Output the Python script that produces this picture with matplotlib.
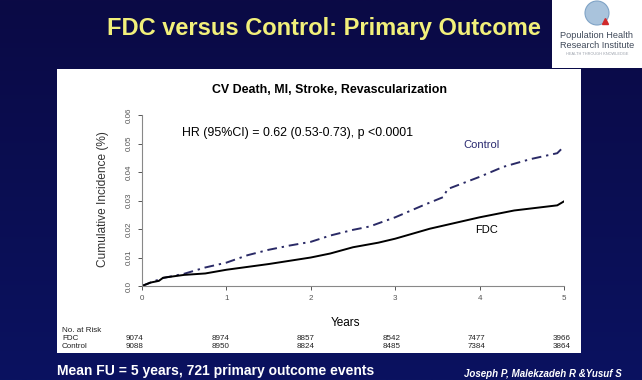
import numpy as np
import matplotlib
matplotlib.use("Agg")
import matplotlib.pyplot as plt
from matplotlib.patches import Rectangle, Circle

plt.rcParams['font.family'] = ['Liberation Sans', 'DejaVu Sans']

# cumulative incidence curves
control_t = [0, 0.1, 0.25, 0.5, 0.75, 1.0, 1.25, 1.5, 1.75, 2.0, 2.23, 2.5,
             2.7, 2.82, 3.0, 3.33, 3.57, 3.62, 4.0, 4.28, 4.6, 4.92, 5.0]
control_y = [0, 0.0012, 0.0028, 0.0043, 0.0065, 0.0082, 0.0108, 0.0127, 0.0142,
             0.0155, 0.0177, 0.0197, 0.0209, 0.0222, 0.0241, 0.0283, 0.0312,
             0.0340, 0.0383, 0.0418, 0.0445, 0.0466, 0.0490]
fdc_t = [0, 0.1, 0.2, 0.25, 0.5, 0.75, 1.0, 1.5, 2.0, 2.23, 2.5, 2.8, 3.0,
         3.41, 4.0, 4.41, 4.92, 5.0]
fdc_y = [0, 0.0012, 0.0018, 0.0029, 0.0039, 0.0044, 0.0057, 0.0077, 0.0100,
         0.0114, 0.0136, 0.0152, 0.0166, 0.0201, 0.0241, 0.0265, 0.0283, 0.0297]

years = [0, 1, 2, 3, 4, 5]
risk_fdc = [9074, 8974, 8857, 8542, 7477, 3966]
risk_control = [9088, 8950, 8824, 8485, 7384, 3864]

W, H = 642, 380
fig = plt.figure(figsize=(W / 100, H / 100), dpi=100)

# slide background
bg = fig.add_axes([0, 0, 1, 1])
grad = np.linspace(0, 1, 256).reshape(-1, 1)
cmap = matplotlib.colors.LinearSegmentedColormap.from_list('slide', ['#0b0a45', '#0a1260'])
bg.imshow(grad, aspect='auto', cmap=cmap, extent=[0, W, H, 0])
bg.set_xlim(0, W)
bg.set_ylim(H, 0)
bg.axis('off')

# white chart panel + logo box
bg.add_patch(Rectangle((57, 69), 524, 284, facecolor='white', edgecolor='none'))
bg.add_patch(Rectangle((552, 0), 90, 68, facecolor='white', edgecolor='none'))
bg.add_patch(Circle((597, 13), 12, facecolor='#a9c3dc', edgecolor='#7fa3c6', lw=0.8))
bg.plot([605], [21], marker='^', color='#d0282a', ms=4)
bg.text(597, 36, 'Population Health', color='#404a5a', fontsize=6.6, ha='center', va='center')
bg.text(597, 45.5, 'Research Institute', color='#404a5a', fontsize=6.6, ha='center', va='center')
bg.text(597, 54, 'HEALTH THROUGH KNOWLEDGE', color='#9aa0aa', fontsize=2.8, ha='center', va='center')

bg.text(324, 29, 'FDC versus Control: Primary Outcome', color='#f2f07a', fontsize=17,
        fontweight='bold', ha='center', va='center')
bg.text(57, 371, 'Mean FU = 5 years, 721 primary outcome events', color='white',
        fontsize=10, fontweight='bold', ha='left', va='center')
bg.text(622, 374, 'Joseph P, Malekzadeh R &Yusuf S', color='white', fontsize=7.0,
        fontweight='bold', style='italic', ha='right', va='center')

bg.text(329, 90, 'CV Death, MI, Stroke, Revascularization', color='black', fontsize=8.9,
        fontweight='bold', ha='center', va='center')
bg.text(182, 133, 'HR (95%CI) = 0.62 (0.53-0.73), p <0.0001', color='black', fontsize=8.9,
        ha='left', va='center')
bg.text(103, 199, 'Cumulative Incidence (%)', color='#333333', fontsize=8.6, rotation=90,
        ha='center', va='center')
bg.text(345, 323, 'Years', color='black', fontsize=8.5, ha='center', va='center')
bg.text(62, 331, 'No. at Risk', color='#222222', fontsize=5.8, ha='left', va='center')
bg.text(62, 339, 'FDC', color='#222222', fontsize=5.8, ha='left', va='center')
bg.text(62, 347, 'Control', color='#222222', fontsize=5.8, ha='left', va='center')

# main plot
ax = fig.add_axes([142 / W, 1 - 286 / H, 422 / W, 171 / H])
ax.patch.set_alpha(0)
ax.plot(control_t, control_y, color='#2a2a66', lw=1.4, linestyle=(0, (5, 2.5, 1.2, 2.5)))
ax.plot(fdc_t, fdc_y, color='black', lw=1.4)
ax.set_xlim(0, 5)
ax.set_ylim(0, 0.06)
ax.set_xticks(years)
ax.set_xticklabels([str(y) for y in years])
ax.set_yticks([0, 0.01, 0.02, 0.03, 0.04, 0.05, 0.06])
ax.set_yticklabels(['0.0', '0.01', '0.02', '0.03', '0.04', '0.05', '0.06'], rotation=90, va='center')
for s in ['top', 'right']:
    ax.spines[s].set_visible(False)
for s in ['left', 'bottom']:
    ax.spines[s].set_color('#888888')
    ax.spines[s].set_linewidth(0.8)
ax.tick_params(axis='both', labelsize=5.8, colors='#555555', length=3, width=0.7)
ax.text(4.02, 0.0495, 'Control', color='#2a2a70', fontsize=8, ha='center', va='center')
ax.text(4.08, 0.0197, 'FDC', color='black', fontsize=8, ha='center', va='center')

# numbers at risk
for x, a, b in zip(years, risk_fdc, risk_control):
    xp = 142 + x * 84.4 - 7 + x * 1.0
    bg.text(xp, 339, str(a), color='#222222', fontsize=5.8, ha='center', va='center')
    bg.text(xp, 347, str(b), color='#222222', fontsize=5.8, ha='center', va='center')

fig.savefig('out.png', dpi=100)
